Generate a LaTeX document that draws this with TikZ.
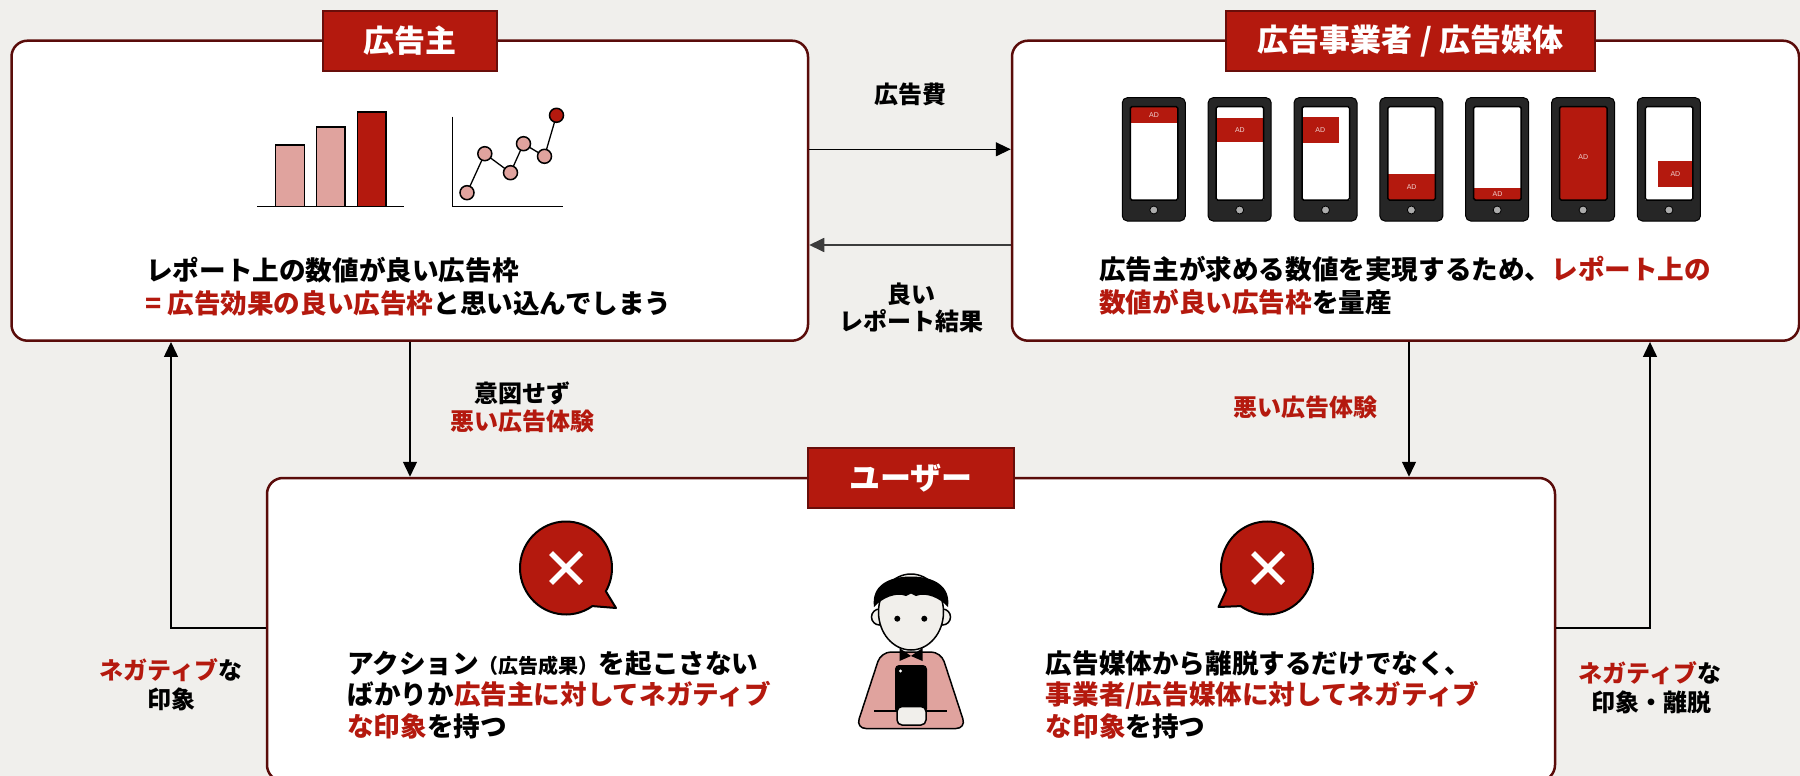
\documentclass[tikz,border=0pt]{standalone}
\usepackage{fontspec}
\setmainfont{Noto Sans CJK JP}
\newfontfamily\adfont{Liberation Sans}
\usetikzlibrary{arrows.meta}
\definecolor{bg}{RGB}{240,239,236}
\definecolor{brandred}{RGB}{180,25,14}
\definecolor{boxedge}{RGB}{90,12,10}
\definecolor{headedge}{RGB}{105,14,10}
\definecolor{pinkfill}{RGB}{224,163,158}
\definecolor{skin}{RGB}{241,239,235}
\definecolor{phonebody}{RGB}{38,38,38}
\definecolor{inkline}{RGB}{60,60,60}

\begin{document}
\begin{tikzpicture}[x=1pt,y=-1pt,
  panel/.style={draw=boxedge, line width=2.5pt, fill=white, rounded corners=16pt, inner sep=0pt},
  header/.style={draw=headedge, line width=2.5pt, fill=brandred, text=white, inner sep=0pt,
    minimum height=60pt, font=\bfseries\fontsize{31}{37}\selectfont},
  txt/.style={anchor=base west, inner sep=0pt, font=\bfseries\fontsize{26.6}{32}\selectfont},
  lbl/.style={anchor=base, inner sep=0pt, font=\bfseries\fontsize{24}{28}\selectfont},
  conn/.style={line width=1.3pt, draw=black, -{Triangle[length=15pt,width=14pt]}},
  adtxt/.style={inner sep=0pt, text=white!80!brandred, font=\adfont\fontsize{7}{8}\selectfont},
  bubble/.style={fill=brandred, draw=black, line width=2pt, line join=round},
  cross/.style={draw=white, line width=5.5pt}
]
\useasboundingbox (0,0) rectangle (1800,776);
\fill[bg] (0,0) rectangle (1800,776);

% ---------- panels ----------
\node[panel, minimum width=796.5pt, minimum height=300pt] (adv) at (409.75,190.7) {};
\node[panel, minimum width=787pt, minimum height=300pt] (med) at (1405.5,190.7) {};
\node[panel, minimum width=1288pt, minimum height=303pt] (usr) at (911,629.5) {};

\node[header, minimum width=174pt] (advhead) at (410,41) {広告主};
\node[header, minimum width=369pt] (medhead) at (1410.5,41) {広告事業者 / 広告媒体};
\node[header, minimum width=206pt] (usrhead) at (911,478) {ユーザー};

% ---------- connectors ----------
\coordinate (yfee) at (0,149.3);
\coordinate (yrep) at (0,245);
\coordinate (xbadL) at (410,0);
\coordinate (xbadR) at (1409,0);
\coordinate (ybackL) at (0,628);
\coordinate (xbackL) at (171,0);
\coordinate (xbackR) at (1650,0);

\draw[conn] (adv.east |- yfee) -- (med.west |- yfee);
\draw[conn, draw=inkline, line width=1.8pt] (med.west |- yrep) -- (adv.east |- yrep);
\draw[conn] (adv.south -| xbadL) -- (usr.north -| xbadL);
\draw[conn] (med.south -| xbadR) -- (usr.north -| xbadR);
\draw[conn] (usr.west |- ybackL) -| (adv.south -| xbackL);
\draw[conn] (usr.east |- ybackL) -| (med.south -| xbackR);

% ---------- connector labels ----------
\node[lbl] (feelbl) at (910,103) {広告費};
\node[lbl] (replbla) at (911,303) {良い};
\node[lbl] (replblb) at (911,330.6) {レポート結果};
\node[lbl] (badLa) at (522,402.2) {意図せず};
\node[lbl, text=brandred] (badLb) at (522,430.6) {悪い広告体験};
\node[lbl, text=brandred] (badR) at (1305,416) {悪い広告体験};
\node[lbl] (negLa) at (171,679) {\textcolor{brandred}{ネガティブ}な};
\node[lbl] (negLb) at (171,708) {印象};
\node[lbl] (negRa) at (1650,682) {\textcolor{brandred}{ネガティブ}な};
\node[lbl] (negRb) at (1651,711.5) {印象・離脱};

% ---------- advertiser: bar chart ----------
\draw[line width=1.5pt] (257,206.7) -- (404,206.7);
\draw[fill=pinkfill, line width=1.5pt] (275.6,206.7) rectangle (304.4,145);
\draw[fill=pinkfill, line width=1.5pt] (316.4,206.7) rectangle (345.2,127);
\draw[fill=brandred, line width=1.5pt] (357.7,206.7) rectangle (386,112);

% ---------- advertiser: line chart ----------
\draw[line width=1.5pt] (452.4,116.7) -- (452.4,206.7) -- (563.3,206.7);
\draw[line width=1.3pt] (467,192.7) -- (484.8,153.7) -- (510.5,172.7) -- (523.5,143.7) -- (544.5,156.3) -- (556.5,115.3);
\foreach \px/\py in {467/192.7, 484.8/153.7, 510.5/172.7, 523.5/143.7, 544.5/156.3}
  \draw[fill=pinkfill, line width=1.5pt] (\px,\py) circle (7);
\draw[fill=brandred, line width=1.5pt] (556.5,115.3) circle (7);

% ---------- advertiser text ----------
\node[txt] (advla) at (146,280.6) {レポート上の数値が良い広告枠};
\node[txt] (advlb) at (145,313.2) {\textcolor{brandred}{= 広告効果の良い広告枠}と思い込んでしまう};

% ---------- media: phones ----------
\foreach \i in {0,...,6}{
  \pgfmathsetmacro\px{1122.3+85.85*\i}
  \draw[fill=phonebody, line width=1pt, rounded corners=5pt] (\px,97.7) rectangle (\px+63,221);
  \fill[white] (\px+8,106.7) rectangle (\px+55.5,200);
}
% ad slots
\fill[brandred] (1130.3,106.7) rectangle (1177.8,123);
\fill[brandred] (1216.15,118) rectangle (1263.65,141.7);
\fill[brandred] (1302,117) rectangle (1338.5,142.7);
\fill[brandred] (1387.85,174) rectangle (1435.35,200);
\fill[brandred] (1473.7,188.3) rectangle (1521.2,200);
\fill[brandred] (1559.55,106.7) rectangle (1607.05,200);
\fill[brandred] (1658,161) rectangle (1692.9,186.7);
\node[adtxt] (ad1) at (1154,114.85) {AD};
\node[adtxt] (ad2) at (1239.9,129.9) {AD};
\node[adtxt] (ad3) at (1320.3,129.9) {AD};
\node[adtxt] (ad4) at (1411.6,187) {AD};
\node[adtxt] (ad5) at (1497.5,194.2) {AD};
\node[adtxt] (ad6) at (1583.3,157.5) {AD};
\node[adtxt] (ad7) at (1675.4,173.9) {AD};
\foreach \i in {0,...,6}{
  \pgfmathsetmacro\px{1122.3+85.85*\i}
  \draw[line width=1.5pt, rounded corners=1.5pt] (\px+8,106.7) rectangle (\px+55.5,200);
  \draw[fill=gray!65, line width=0.8pt] (\px+31.5,210) circle (4);
}

% ---------- media text ----------
\node[txt] (medla) at (1099,279.2) {広告主が求める数値を実現するため、\textcolor{brandred}{レポート上の}};
\node[txt] (medlb) at (1099,312.6) {\textcolor{brandred}{数値が良い広告枠}を量産};

% ---------- user: speech bubbles ----------
\draw[bubble] (566,568) ++(55:46 and 46.5)
  arc[start angle=55, end angle=390, x radius=46, y radius=46.5] -- (616,608) -- cycle;
\draw[cross] (551,553) -- (581,583) (581,553) -- (551,583);

\draw[bubble] (1267,568) ++(152:46 and 46.5)
  arc[start angle=152, end angle=485, x radius=46, y radius=46.5] -- (1218.5,607) -- cycle;
\draw[cross] (1253,553) -- (1283,583) (1283,553) -- (1253,583);

% ---------- user: person ----------
\draw[fill=pinkfill, line width=1.5pt, rounded corners=10pt]
  (881,652) -- (941,652) -- (966,728.5) -- (856,728.5) -- cycle;
\draw[fill=skin, line width=1.5pt] (879.5,617) circle (8);
\draw[fill=skin, line width=1.5pt] (942.5,617) circle (8);
\draw[fill=skin, line width=1.5pt] (911,612) ellipse[x radius=32.5, y radius=38];
\fill[black] (911,656) -- (899.5,648) -- (899.5,661) -- cycle;
\fill[black] (911,656) -- (922.5,648) -- (922.5,661) -- cycle;
\fill[black] (874,607) .. controls (871,586) and (888,576.5) .. (911,576.5)
  .. controls (934,576.5) and (951,586) .. (948,607)
  .. controls (940,598) and (926,592) .. (916,596)
  -- (911,593.5) -- (906,596)
  .. controls (896,592) and (882,598) .. (874,607) -- cycle;
\fill[black] (897.3,618.7) circle (3);
\fill[black] (924.3,618.7) circle (3);
\fill[black, rounded corners=4pt] (895,665) rectangle (927,713);
\fill[white] (900.5,671) circle (1.6);
\draw[line width=1.5pt] (874,711) -- (947,711);
\draw[fill=skin, line width=1.5pt, rounded corners=5pt] (897,706.5) rectangle (926,725);

% ---------- user text ----------
\node[txt] (usrLa) at (347,673.2) {アクション{\fontsize{20}{24}\selectfont （広告成果）}を起こさない};
\node[txt] (usrLb) at (347,704.9) {ばかりか\textcolor{brandred}{広告主に対してネガティブ}};
\node[txt] (usrLc) at (347,736.6) {\textcolor{brandred}{な印象}を持つ};
\node[txt] (usrRa) at (1045.7,673.2) {広告媒体から離脱するだけでなく、};
\node[txt] (usrRb) at (1045.7,704.9) {\textcolor{brandred}{事業者/広告媒体に対してネガティブ}};
\node[txt] (usrRc) at (1045.7,736.6) {\textcolor{brandred}{な印象}を持つ};
\end{tikzpicture}
\end{document}
